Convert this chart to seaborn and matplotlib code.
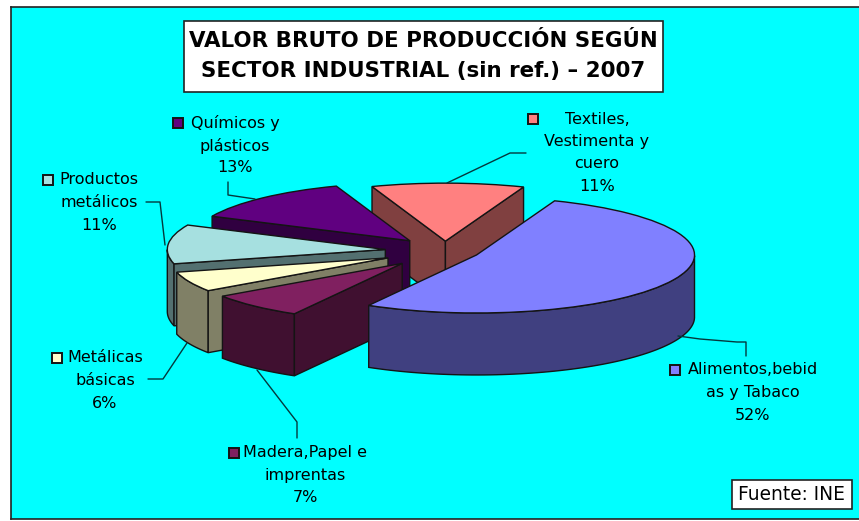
import numpy as np
import seaborn as sns
import matplotlib.pyplot as plt
from matplotlib.patches import Rectangle
from matplotlib.transforms import Affine2D

sectors = ['Alimentos,bebid\nas y Tabaco', 'Madera,Papel e\nimprentas', 'Metálicas\nbásicas',
           'Productos\nmetálicos', 'Químicos y\nplásticos', 'Textiles,\nVestimenta y\ncuero']
values = [52.4, 7.2, 5.6, 10.9, 12.6, 11.3]
hex_colors = ['#8080FF', '#802060', '#FFFFCC', '#A6E0E0', '#600080', '#FF8080']
explode = [0.16, 0.29, 0.287, 0.275, 0.24, 0.17]
title_lines = ['VALOR BRUTO DE PRODUCCIÓN SEGÚN', 'SECTOR INDUSTRIAL (sin ref.) – 2007']
source = 'Fuente: INE'

# label placement in picture pixels: text centre x, first line y, marker x
label_pos = [(753, 370, 675), (305, 453, 234), (105, 358, 57),
             (99, 180, 48), (235, 123, 178), (597, 119, 533)]
leaders = [[(678, 336), (700, 339), (737, 342), (746, 342), (746, 356)],
           [(257, 370), (297, 422), (297, 438)],
           [(148, 379), (163, 379), (187, 343)],
           [(146, 202), (160, 202), (165, 245)],
           [(228, 182), (228, 195), (255, 199)],
           [(447, 183), (510, 153), (526, 153)]]

W, H = 859, 521
CX, CY, RX, RY = 445, 251, 218, 58
DEPTH = 62 / RY
LINE = 22.5
EDGE = '#141414'

sns.set_theme(style='white')
plt.rcParams['font.family'] = ['DejaVu Sans']
palette = sns.color_palette(hex_colors)
dark = [tuple(c * 0.5 for c in col) for col in palette]

fig = plt.figure(figsize=(W / 100, H / 100), dpi=100, facecolor='white')
left, right, top, bottom = 11, 860, 7, 519
ax = fig.add_axes([left / W, 1 - bottom / H, (right - left) / W, (bottom - top) / H])
px = Affine2D().scale(1 / W, -1 / H).translate(0, 1) + fig.transFigure

wedges, _ = ax.pie(values, colors=palette, startangle=69, counterclock=False, explode=explode,
                   wedgeprops=dict(edgecolor=EDGE, linewidth=1))


def wall(xs, ys, color, z):
    xs = np.asarray(xs)
    ys = np.asarray(ys)
    ax.fill(np.r_[xs, xs[::-1]], np.r_[ys, ys[::-1] - DEPTH], facecolor=color,
            edgecolor=EDGE, linewidth=1, zorder=z)


# paint from the back: textiles first, alimentos last
paint_order = [5, 4, 3, 2, 1, 0]
for n, i in enumerate(paint_order):
    w = wedges[i]
    z = 2 + n
    cx, cy = w.center
    th = np.radians(np.linspace(w.theta1, w.theta2, 120))
    front = th[np.sin(th) < 0]
    if len(front):
        wall(cx + np.cos(front), cy + np.sin(front), dark[i], z)
    # cut faces, only the ones turned towards the viewer
    a_start, a_end = np.radians(w.theta2), np.radians(w.theta1)
    if np.cos(a_start) < 0:
        wall([cx, cx + np.cos(a_start)], [cy, cy + np.sin(a_start)], dark[i], z)
    if np.cos(a_end) > 0:
        wall([cx, cx + np.cos(a_end)], [cy, cy + np.sin(a_end)], dark[i], z)
    w.set_zorder(z + 0.5)

ax.set_aspect('auto')
ax.set_frame_on(True)
ax.set_facecolor('#00FFFF')
for s in ax.spines.values():
    s.set_color('#222222')
    s.set_linewidth(1.2)
ax.set_xlim((left - CX) / RX, (right - CX) / RX)
ax.set_ylim((CY - bottom) / RY, (CY - top) / RY)

for i, name in enumerate(sectors):
    x, y, mx = label_pos[i]
    lines = name.split('\n') + [f'{round(values[i])}%']
    for k, txt in enumerate(lines):
        ax.text(x, y + k * LINE, txt, transform=px, ha='center', va='center', fontsize=11.5,
                color='black', zorder=20)
    ax.add_patch(Rectangle((mx - 5, y - 5), 10, 10, transform=px, facecolor=palette[i],
                           edgecolor=EDGE, linewidth=1.4, zorder=20))
    xs, ys = zip(*leaders[i])
    ax.plot(xs, ys, transform=px, color='#04383c', linewidth=1, zorder=15)

ax.add_patch(Rectangle((184, 21), 479, 71, transform=px, facecolor='white', edgecolor='#222222',
                       linewidth=1.2, zorder=20))
for k, txt in enumerate(title_lines):
    ax.text(423, 41 + k * 30, txt, transform=px, ha='center', va='center', fontsize=15.4,
            fontweight='bold', color='black', zorder=21)

ax.add_patch(Rectangle((732, 480), 120, 29, transform=px, facecolor='white', edgecolor='#222222',
                       linewidth=1.2, zorder=20))
ax.text(792, 494.5, source, transform=px, ha='center', va='center', fontsize=13.4, color='black', zorder=21)

fig.savefig('out.png', dpi=100, facecolor='white')
